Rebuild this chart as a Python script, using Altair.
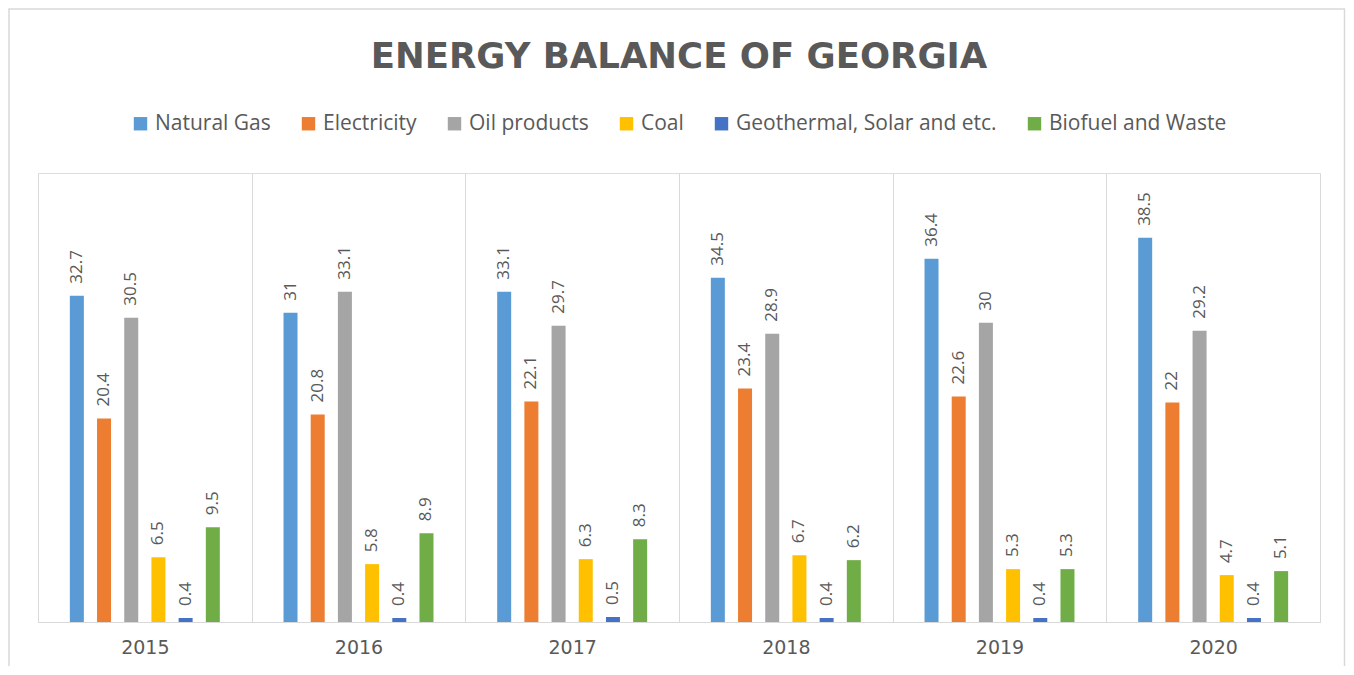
import altair as alt
import pandas as pd

years = ["2015", "2016", "2017", "2018", "2019", "2020"]
series = ["Natural Gas", "Electricity", "Oil products", "Coal",
          "Geothermal, Solar and etc.", "Biofuel and Waste"]
colors = ["#5B9BD5", "#ED7D31", "#A5A5A5", "#FFC000", "#4472C4", "#70AD47"]

natural_gas = [32.7, 31, 33.1, 34.5, 36.4, 38.5]
electricity = [20.4, 20.8, 22.1, 23.4, 22.6, 22]
oil_products = [30.5, 33.1, 29.7, 28.9, 30, 29.2]
coal = [6.5, 5.8, 6.3, 6.7, 5.3, 4.7]
geothermal = [0.4, 0.4, 0.5, 0.4, 0.4, 0.4]
biofuel = [9.5, 8.9, 8.3, 6.2, 5.3, 5.1]

rows = []
for s, vals in zip(series, [natural_gas, electricity, oil_products, coal, geothermal, biofuel]):
    for yr, v in zip(years, vals):
        rows.append({"Year": yr, "Source": s, "Value": v})
df = pd.DataFrame(rows)

FONT = "Open Sans"
GRAY = "#595959"
W, H = 1282, 449
PAD = {"left": 30, "top": 165, "right": 26, "bottom": 44}

x = alt.X("Year:N", sort=years,
          scale=alt.Scale(paddingInner=0, paddingOuter=0),
          axis=alt.Axis(title=None, labelAngle=0, grid=True, tickBand="extent",
                        ticks=False, domain=True, domainColor="#d9d9d9",
                        gridColor="#d9d9d9", labelFontSize=19, labelColor=GRAY,
                        labelFont="DejaVu Sans", labelPadding=16))
xoff = alt.XOffset("Source:N", sort=series,
                   scale=alt.Scale(paddingInner=0.143, paddingOuter=1))
y = alt.Y("Value:Q", scale=alt.Scale(domain=[0, 45]), axis=None)
color = alt.Color("Source:N", sort=series,
                  scale=alt.Scale(domain=series, range=colors),
                  legend=alt.Legend(title=None, orient="none", legendX=92, legendY=-60,
                                    direction="horizontal", columns=6, columnPadding=27,
                                    symbolType="square", symbolSize=180, symbolStrokeWidth=0,
                                    labelFontSize=21, labelFont=FONT, labelColor=GRAY,
                                    labelOffset=4, labelLimit=400))

bars = alt.Chart(df).mark_bar(width=14).encode(x=x, xOffset=xoff, y=y, color=color)
labels = alt.Chart(df).mark_text(angle=270, align="left", baseline="middle", dx=12,
                                 fontSize=17, font=FONT, color=GRAY).encode(
    x=x, xOffset=xoff, y=y, text=alt.Text("Value:Q"))

frame = alt.Chart(alt.Data(values=[{}])).mark_rect(
    filled=False, stroke="#d9d9d9", strokeWidth=1.5).encode(
    x=alt.value(-29), x2=alt.value(W + PAD["right"] - 1.5),
    y=alt.value(-164), y2=alt.value(H + PAD["bottom"] + 20))

chart = alt.layer(frame, bars, labels).properties(
    width=W, height=H,
    title=alt.TitleParams("ENERGY BALANCE OF GEORGIA", fontSize=35.5, font="DejaVu Sans",
                          fontWeight="bold", color=GRAY, anchor="middle", offset=-67),
    autosize=alt.AutoSizeParams(type="none"),
    padding=PAD,
).configure_view(stroke=None).configure(background="white")

chart.save("out.html", embed_options={"renderer": "svg", "actions": False})
